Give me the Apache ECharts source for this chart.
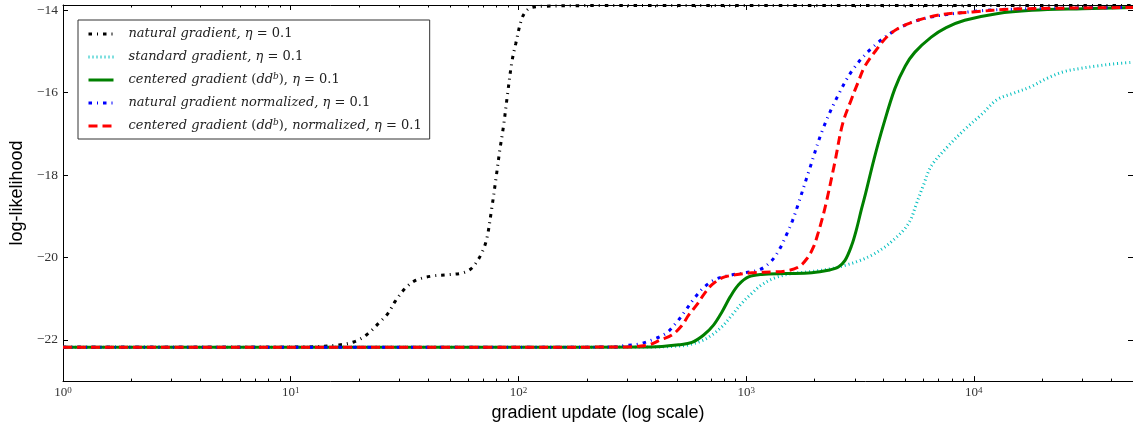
<!DOCTYPE html>
<html><head><meta charset="utf-8">
<script src="https://cdn.jsdelivr.net/npm/echarts@6/dist/echarts.min.js"></script>
<style>html,body{margin:0;padding:0;background:#fff}#c{width:1133px;height:427px}</style>
</head><body><div id="c"></div>
<script>
// ---------- data ----------
const xTickValues = [1, 10, 100, 1000, 10000];
const xTickExponents = ['0', '1', '2', '3', '4'];
const yTickValues = [-22, -20, -18, -16, -14];
const seriesNames = [
  'natural gradient', 'standard gradient', 'centered gradient',
  'natural gradient normalized', 'centered gradient normalized'
];
const legendLabels = [
  '{g|}{i|natural gradient,} {i|η} {r|= 0.1}',
  '{g|}{i|standard gradient,} {i|η} {r|= 0.1}',
  '{g|}{i|centered gradient} {r|(}{i|dd}{s|b}{r|),} {i|η} {r|= 0.1}',
  '{g|}{i|natural gradient normalized,} {i|η} {r|= 0.1}',
  '{g|}{i|centered gradient} {r|(}{i|dd}{s|b}{r|),} {i|normalized,} {i|η} {r|= 0.1}'
];
const naturalGradient = [
  [1,-22.18],[5,-22.18],[12,-22.17],[16.4,-22.12],[19.1,-22.04],[21.5,-21.88],[24.3,-21.60],
  [26.7,-21.36],[28.8,-21.06],[31.8,-20.75],[35.5,-20.55],[41.8,-20.45],[48.4,-20.42],
  [56.3,-20.38],[61,-20.30],[64,-20.19],[69.2,-19.88],[72.7,-19.53],[76.2,-18.84],
  [79.6,-18.10],[82.9,-17.38],[86,-16.81],[89.5,-16.05],[93.6,-15.25],[97.4,-14.80],
  [103.5,-14.20],[108.8,-14.0],[114.5,-13.93],[130,-13.9],[200,-13.885],[50000,-13.885]
];
const standardGradient = [
  [1,-22.18],[100,-22.18],[400,-22.17],[473,-22.16],[559,-22.12],[640,-22.02],[708,-21.88],
  [783,-21.68],[866,-21.40],[957,-21.11],[1059,-20.87],[1173,-20.66],[1343,-20.49],
  [1585,-20.39],[1941,-20.34],[2370,-20.27],[2718,-20.19],[3100,-20.09],[3545,-19.95],
  [4056,-19.75],[4485,-19.55],[4960,-19.31],[5300,-19.06],[5550,-18.75],[6000,-18.25],
  [6500,-17.78],[7700,-17.30],[9120,-16.89],[10800,-16.53],[12640,-16.17],[14950,-16.01],
  [17700,-15.86],[20950,-15.65],[24780,-15.49],[29350,-15.41],[34700,-15.35],[41100,-15.30],
  [50000,-15.26]
];
const centeredGradient = [
  [1,-22.18],[100,-22.18],[380,-22.17],[427,-22.16],[506,-22.12],[578,-22.06],[651,-21.88],
  [719,-21.64],[783,-21.32],[852,-20.95],[926,-20.66],[1025,-20.47],[1173,-20.41],
  [1484,-20.39],[1941,-20.37],[2294,-20.31],[2541,-20.23],[2718,-20.07],[2905,-19.71],
  [3054,-19.31],[3212,-18.82],[3345,-18.45],[3650,-17.6],[4000,-16.8],[4500,-15.9],
  [5000,-15.35],[5500,-15.02],[6500,-14.65],[7560,-14.42],[9120,-14.24],[12600,-14.08],
  [18000,-14.0],[30000,-13.96],[50000,-13.93]
];
const naturalNormalized = [
  [1,-22.18],[100,-22.18],[276,-22.17],[290,-22.14],[338,-22.10],[386,-22.0],[445,-21.84],
  [494,-21.58],[541,-21.29],[592,-20.99],[651,-20.73],[732,-20.53],[852,-20.43],[990,-20.37],
  [1153,-20.29],[1297,-20.07],[1411,-19.77],[1508,-19.43],[1597,-19.11],[1680,-18.76],
  [1900,-17.85],[2170,-16.89],[2541,-16.05],[2967,-15.41],[3622,-14.88],[4630,-14.45],
  [6040,-14.20],[9450,-14.04],[14770,-13.97],[50000,-13.93]
];
const centeredNormalized = [
  [1,-22.18],[100,-22.18],[300,-22.17],[327,-22.16],[374,-22.12],[420,-22.0],[473,-21.88],
  [522,-21.65],[559,-21.40],[609,-21.14],[657,-20.87],[708,-20.66],[788,-20.49],[896,-20.42],
  [1059,-20.37],[1297,-20.35],[1484,-20.33],[1698,-20.23],[1847,-20.03],[1974,-19.75],
  [2075,-19.39],[2168,-19.02],[2258,-18.62],[2450,-17.70],[2654,-16.75],[2904,-16.15],
  [3100,-15.75],[3313,-15.37],[3706,-14.98],[4234,-14.60],[5063,-14.34],[6915,-14.12],
  [9890,-14.04],[14770,-13.97],[50000,-13.93]
];
const seriesData = [naturalGradient, standardGradient, centeredGradient, naturalNormalized, centeredNormalized];
const seriesColors = ['#000000', '#00bfbf', '#008000', '#0000ff', '#ff0000'];
const seriesDash = [[3.5, 5, 1, 5], [1, 3], 'solid', [3.5, 5, 1, 5], [9, 5]];

const X_MIN = 1, X_MAX = 50000, Y_MIN = -23, Y_MAX = -13.87;
const minorX = [];
for (let d = 1; d <= 10000; d *= 10) for (let k = 2; k <= 9; k++) if (k * d <= X_MAX) minorX.push(k * d);

// ---------- chart ----------
const chart = echarts.init(document.getElementById('c'), null, {renderer: 'canvas'});
const tickFont = 'Liberation Serif';
function expLabel(v) {
  let best = 0;
  for (let i = 0; i < xTickValues.length; i++) {
    if (Math.abs(Math.log10(v) - Math.log10(xTickValues[i])) < Math.abs(Math.log10(v) - Math.log10(xTickValues[best]))) best = i;
  }
  return '{b|10}{s|' + xTickExponents[best] + '}';
}
function logX(extra) {
  return Object.assign({
    type: 'log', logBase: 10, min: X_MIN, max: X_MAX, gridIndex: 0,
    splitLine: {show: false}, axisLabel: {show: false},
    axisLine: {show: false}, axisTick: {show: false}
  }, extra);
}
const option = {
  animation: false,
  backgroundColor: '#fff',
  grid: {left: 62.7, right: -2.3, top: 5, bottom: 44.3, containLabel: false},
  xAxis: [
    logX({
      position: 'bottom',
      axisLine: {show: true, onZero: false, lineStyle: {color: '#000', width: 1}},
      axisTick: {show: true, inside: true, length: 5, customValues: xTickValues, lineStyle: {color: '#000', width: 1}},
      axisLabel: {
        show: true, customValues: xTickValues, margin: 5, formatter: expLabel,
        rich: {
          b: {fontFamily: tickFont, fontSize: 13, color: '#333'},
          s: {fontFamily: tickFont, fontSize: 9, color: '#333', verticalAlign: 'top', lineHeight: 8}
        }
      },
      name: 'gradient update (log scale)', nameLocation: 'middle', nameGap: 20,
      nameTextStyle: {fontFamily: 'Liberation Sans', fontSize: 18, color: '#000'}
    }),
    logX({position: 'bottom', axisTick: {show: true, inside: true, length: 2.5, customValues: minorX, lineStyle: {color: '#000', width: 1}}}),
    logX({position: 'top', axisLine: {show: true, onZero: false, lineStyle: {color: '#000', width: 1}},
      axisTick: {show: true, inside: true, length: 5, customValues: xTickValues, lineStyle: {color: '#000', width: 1}}}),
    logX({position: 'top', axisTick: {show: true, inside: true, length: 2.5, customValues: minorX, lineStyle: {color: '#000', width: 1}}})
  ],
  yAxis: [
    {
      type: 'value', min: Y_MIN, max: Y_MAX, position: 'left',
      splitLine: {show: false},
      axisLine: {show: true, onZero: false, lineStyle: {color: '#000', width: 1}},
      axisTick: {show: true, inside: true, length: 5, customValues: yTickValues, lineStyle: {color: '#000', width: 1}},
      axisLabel: {
        customValues: yTickValues, margin: 5,
        formatter: v => (v < 0 ? '\u2212' : '') + Math.abs(v),
        fontFamily: tickFont, fontSize: 13.5, color: '#333'
      },
      name: 'log-likelihood', nameLocation: 'middle', nameGap: 36,
      nameTextStyle: {fontFamily: 'Liberation Sans', fontSize: 18, color: '#000'}
    },
    {
      type: 'value', min: Y_MIN, max: Y_MAX, position: 'right',
      splitLine: {show: false}, axisLabel: {show: false},
      axisLine: {show: true, onZero: false, lineStyle: {color: '#000', width: 1}},
      axisTick: {show: true, inside: true, length: 5, customValues: yTickValues, lineStyle: {color: '#000', width: 1}}
    }
  ],
  legend: {
    orient: 'vertical', left: 78, top: 20,
    padding: [6, 8, 5, 9], itemGap: 7, itemWidth: 25, itemHeight: 14,
    backgroundColor: '#fff', borderColor: '#333', borderWidth: 1, borderRadius: 0,
    data: seriesNames,
    lineStyle: {width: 'inherit'},
    itemStyle: {opacity: 0, borderWidth: 0},
    formatter: name => legendLabels[seriesNames.indexOf(name)],
    textStyle: {
      fontFamily: 'DejaVu Serif', fontSize: 13, color: '#222', lineHeight: 16,
      rich: {
        g: {width: 10},
        i: {fontFamily: 'DejaVu Serif', fontStyle: 'italic', fontSize: 13, color: '#222', lineHeight: 16},
        r: {fontFamily: 'DejaVu Serif', fontSize: 13, color: '#222', lineHeight: 16},
        s: {fontFamily: 'DejaVu Serif', fontStyle: 'italic', fontSize: 9, color: '#222', verticalAlign: 'top', lineHeight: 9}
      }
    }
  },
  series: seriesNames.map((n, i) => ({
    name: n, type: 'line', xAxisIndex: 0, yAxisIndex: 0,
    data: seriesData[i], symbol: 'none', showSymbol: false, smooth: 0.35,
    silent: true, clip: true,
    lineStyle: {color: seriesColors[i], width: 3, type: seriesDash[i]},
    itemStyle: {color: seriesColors[i]}
  }))
};
chart.setOption(option);
</script></body></html>
